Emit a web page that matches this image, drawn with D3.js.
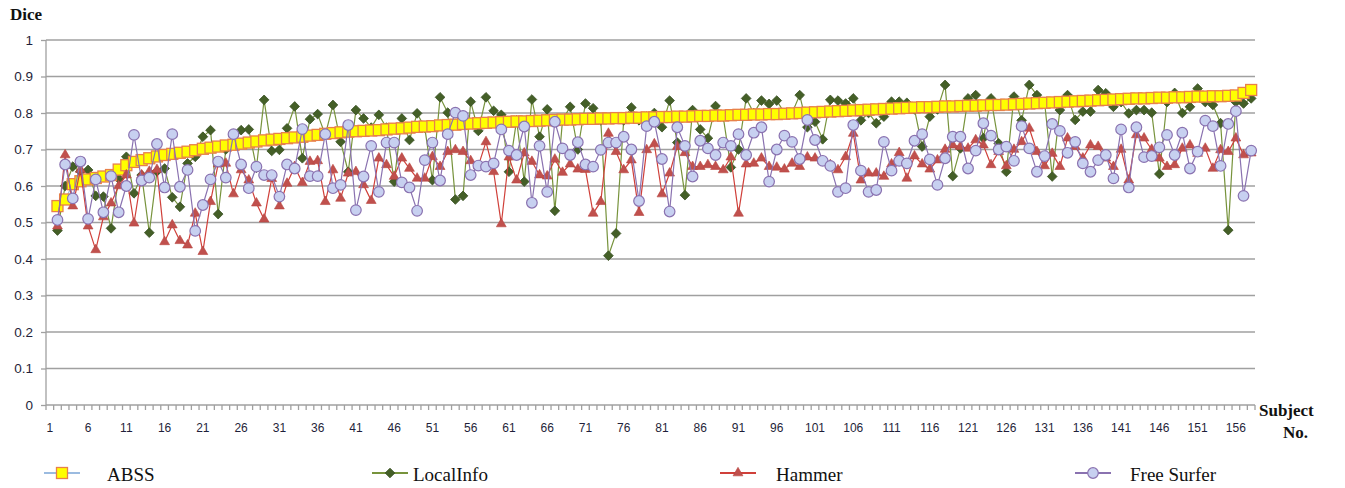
<!DOCTYPE html>
<html>
<head>
<meta charset="utf-8">
<title>Dice per subject</title>
<script src="https://cdn.jsdelivr.net/npm/d3@7"></script>
<style>
  body { margin: 0; background: #fff; }
  svg text { font-family: "Liberation Sans", Arial, sans-serif; }
  .grid line { stroke: #a0a0a0; stroke-width: 1.3; }
  .axis path, .axis line { stroke: #a0a0a0; stroke-width: 1.3; }
  .axis text { fill: #1f1f3a; }
  .serif { font-family: "Liberation Serif", "Times New Roman", serif !important; fill: #111; }
</style>
</head>
<body>
<script>
// categories on the axis: 1..158, data starts at subject 2
var categories = d3.range(1, 159);
var subjects = d3.range(2, 159);
var xLabels = [1, 6, 11, 16, 21, 26, 31, 36, 41, 46, 51, 56, 61, 66, 71, 76, 81, 86, 91, 96,
  101, 106, 111, 116, 121, 126, 131, 136, 141, 146, 151, 156];
var yTicks = [0, 0.1, 0.2, 0.3, 0.4, 0.5, 0.6, 0.7, 0.8, 0.9, 1];

var abss = [0.545, 0.563, 0.605, 0.613, 0.618, 0.622, 0.626, 0.630, 0.645, 0.657,
  0.666, 0.671, 0.676, 0.681, 0.685, 0.688, 0.691, 0.694, 0.698, 0.702,
  0.705, 0.708, 0.711, 0.713, 0.716, 0.719, 0.722, 0.725, 0.727, 0.729,
  0.731, 0.733, 0.735, 0.738, 0.740, 0.743, 0.745, 0.747, 0.749, 0.750,
  0.751, 0.752, 0.753, 0.755, 0.757, 0.758, 0.760, 0.762, 0.763, 0.764,
  0.766, 0.767, 0.768, 0.770, 0.771, 0.772, 0.773, 0.774, 0.775, 0.776,
  0.777, 0.777, 0.778, 0.779, 0.780, 0.781, 0.782, 0.782, 0.783, 0.784,
  0.784, 0.785, 0.785, 0.786, 0.786, 0.787, 0.787, 0.788, 0.788, 0.789,
  0.789, 0.790, 0.790, 0.791, 0.792, 0.792, 0.793, 0.793, 0.794, 0.795,
  0.795, 0.796, 0.796, 0.797, 0.797, 0.798, 0.799, 0.800, 0.801, 0.802,
  0.803, 0.804, 0.805, 0.806, 0.807, 0.808, 0.809, 0.810, 0.811, 0.812,
  0.813, 0.814, 0.815, 0.816, 0.816, 0.817, 0.818, 0.818, 0.819, 0.820,
  0.820, 0.821, 0.822, 0.822, 0.823, 0.824, 0.825, 0.826, 0.827, 0.828,
  0.829, 0.830, 0.831, 0.832, 0.833, 0.834, 0.835, 0.836, 0.837, 0.838,
  0.839, 0.840, 0.840, 0.841, 0.842, 0.842, 0.843, 0.843, 0.844, 0.845,
  0.845, 0.846, 0.846, 0.847, 0.848, 0.855, 0.863];

var localInfo = [0.478, 0.60, 0.653, 0.64, 0.644, 0.573, 0.571, 0.484, 0.62, 0.68,
  0.58, 0.63, 0.472, 0.64, 0.648, 0.569, 0.543, 0.662, 0.68, 0.735,
  0.753, 0.523, 0.70, 0.72, 0.753, 0.755, 0.65, 0.836, 0.696, 0.699,
  0.758, 0.818, 0.676, 0.783, 0.797, 0.74, 0.822, 0.721, 0.639, 0.808,
  0.785, 0.76, 0.795, 0.76, 0.612, 0.785, 0.726, 0.799, 0.76, 0.616,
  0.843, 0.801, 0.563, 0.573, 0.831, 0.751, 0.843, 0.806, 0.795, 0.639,
  0.78, 0.612, 0.837, 0.735, 0.81, 0.532, 0.78, 0.817, 0.70, 0.826,
  0.813, 0.78, 0.409, 0.470, 0.78, 0.815, 0.78, 0.79, 0.80, 0.761,
  0.834, 0.719, 0.575, 0.808, 0.755, 0.731, 0.819, 0.79, 0.651, 0.700,
  0.840, 0.80, 0.834, 0.825, 0.834, 0.80, 0.80, 0.849, 0.761, 0.776,
  0.728, 0.836, 0.834, 0.826, 0.840, 0.78, 0.80, 0.772, 0.79, 0.831,
  0.831, 0.828, 0.81, 0.708, 0.79, 0.81, 0.877, 0.627, 0.703, 0.84,
  0.849, 0.731, 0.84, 0.717, 0.639, 0.845, 0.78, 0.877, 0.849, 0.83,
  0.626, 0.808, 0.849, 0.781, 0.804, 0.804, 0.863, 0.854, 0.817, 0.83,
  0.799, 0.808, 0.808, 0.801, 0.633, 0.83, 0.855, 0.80, 0.817, 0.867,
  0.83, 0.822, 0.772, 0.479, 0.83, 0.826, 0.84];

var hammer = [0.49, 0.685, 0.545, 0.645, 0.49, 0.425, 0.515, 0.553, 0.60, 0.63,
  0.498, 0.63, 0.64, 0.645, 0.447, 0.493, 0.45, 0.438, 0.525, 0.42,
  0.557, 0.66, 0.662, 0.578, 0.644, 0.616, 0.553, 0.509, 0.62, 0.545,
  0.607, 0.653, 0.609, 0.667, 0.669, 0.557, 0.644, 0.566, 0.635, 0.639,
  0.603, 0.560, 0.676, 0.658, 0.626, 0.676, 0.648, 0.621, 0.621, 0.68,
  0.653, 0.694, 0.699, 0.694, 0.669, 0.655, 0.721, 0.639, 0.496, 0.679,
  0.616, 0.69, 0.667, 0.63, 0.627, 0.673, 0.637, 0.66, 0.646, 0.645,
  0.525, 0.557, 0.744, 0.694, 0.644, 0.671, 0.527, 0.699, 0.715, 0.578,
  0.635, 0.708, 0.691, 0.653, 0.653, 0.658, 0.653, 0.644, 0.679, 0.525,
  0.66, 0.662, 0.676, 0.653, 0.651, 0.646, 0.662, 0.653, 0.679, 0.676,
  0.669, 0.658, 0.644, 0.68, 0.744, 0.616, 0.635, 0.635, 0.626, 0.66,
  0.691, 0.621, 0.682, 0.660, 0.646, 0.671, 0.70, 0.712, 0.708, 0.703,
  0.726, 0.712, 0.658, 0.694, 0.655, 0.70, 0.721, 0.758, 0.694, 0.655,
  0.689, 0.653, 0.731, 0.708, 0.676, 0.712, 0.708, 0.676, 0.653, 0.700,
  0.616, 0.74, 0.731, 0.70, 0.676, 0.653, 0.658, 0.703, 0.712, 0.689,
  0.703, 0.648, 0.699, 0.694, 0.731, 0.685, 0.69];

var freeSurfer = [0.507, 0.659, 0.566, 0.667, 0.510, 0.618, 0.528, 0.627, 0.528, 0.600,
  0.740, 0.615, 0.623, 0.715, 0.596, 0.742, 0.598, 0.644, 0.477, 0.548,
  0.618, 0.667, 0.623, 0.742, 0.659, 0.594, 0.653, 0.630, 0.630, 0.571,
  0.659, 0.648, 0.756, 0.627, 0.627, 0.742, 0.594, 0.603, 0.767, 0.534,
  0.626, 0.710, 0.584, 0.719, 0.719, 0.610, 0.596, 0.532, 0.671, 0.719,
  0.615, 0.742, 0.801, 0.792, 0.630, 0.656, 0.653, 0.662, 0.755, 0.697,
  0.685, 0.763, 0.554, 0.710, 0.584, 0.776, 0.703, 0.685, 0.720, 0.659,
  0.653, 0.699, 0.719, 0.719, 0.735, 0.700, 0.559, 0.764, 0.776, 0.674,
  0.530, 0.761, 0.710, 0.626, 0.724, 0.703, 0.685, 0.719, 0.710, 0.742,
  0.685, 0.746, 0.761, 0.612, 0.700, 0.738, 0.721, 0.674, 0.781, 0.726,
  0.669, 0.655, 0.584, 0.594, 0.767, 0.642, 0.584, 0.589, 0.721, 0.642,
  0.669, 0.662, 0.724, 0.742, 0.673, 0.603, 0.676, 0.735, 0.735, 0.648,
  0.697, 0.772, 0.738, 0.700, 0.708, 0.669, 0.764, 0.703, 0.639, 0.682,
  0.770, 0.751, 0.691, 0.721, 0.662, 0.639, 0.671, 0.685, 0.621, 0.755,
  0.596, 0.761, 0.679, 0.682, 0.706, 0.740, 0.685, 0.746, 0.648, 0.694,
  0.779, 0.764, 0.655, 0.770, 0.805, 0.573, 0.697];

var width = 1345, height = 488;
var plotLeft = 46, plotRight = 1255, plotTop = 40, plotBottom = 405;

var svg = d3.select('body').append('svg')
  .attr('width', width)
  .attr('height', height);

var x = d3.scaleBand().domain(categories).range([plotLeft, plotRight]).padding(0);
var y = d3.scaleLinear().domain([0, 1]).range([plotBottom, plotTop]);
var cx = function(s) { return x(s) + x.bandwidth() / 2; };

// gridlines
svg.append('g').attr('class', 'grid')
  .selectAll('line').data(yTicks.slice(1)).enter().append('line')
  .attr('x1', plotLeft).attr('x2', plotRight)
  .attr('y1', function(d) { return y(d); }).attr('y2', function(d) { return y(d); });

// y axis
var yAxis = d3.axisLeft(y).tickValues(yTicks).tickSize(5).tickPadding(8)
  .tickFormat(function(d) { return d3.format('~g')(d); });
var gy = svg.append('g').attr('class', 'axis')
  .attr('transform', 'translate(' + plotLeft + ',0)').call(yAxis);
gy.select('.domain').attr('d', 'M0,' + plotBottom + 'V' + plotTop);
gy.selectAll('text').style('font-size', '13.5px');

// x axis: tick marks at category boundaries, labels every 5th
var gx = svg.append('g').attr('class', 'axis')
  .attr('transform', 'translate(0,' + plotBottom + ')');
gx.append('line').attr('x1', plotLeft).attr('x2', plotRight).attr('y1', 0).attr('y2', 0);
gx.selectAll('line.tk').data(categories.concat([null])).enter().append('line')
  .attr('class', 'tk')
  .attr('x1', function(d) { return d === null ? plotRight : x(d); })
  .attr('x2', function(d) { return d === null ? plotRight : x(d); })
  .attr('y1', 0).attr('y2', 5);
gx.selectAll('text').data(xLabels).enter().append('text')
  .attr('x', function(d) { return cx(d); })
  .attr('y', 27)
  .attr('text-anchor', 'middle')
  .style('font-size', '12px')
  .text(function(d) { return d; });

// titles
svg.append('text').attr('class', 'serif').attr('x', 10).attr('y', 20)
  .style('font-size', '17px').style('font-weight', 'bold').text('Dice');
svg.append('text').attr('class', 'serif').attr('x', 1259).attr('y', 416)
  .style('font-size', '17px').style('font-weight', 'bold').text('Subject');
svg.append('text').attr('class', 'serif').attr('x', 1283).attr('y', 438)
  .style('font-size', '17px').style('font-weight', 'bold').text('No.');

// markers
function marker(g, type, px, py) {
  if (type === 'square') {
    g.append('rect').attr('x', px - 5.5).attr('y', py - 5.5).attr('width', 11).attr('height', 11)
      .attr('fill', '#ffff00').attr('stroke', '#e8804a').attr('stroke-width', 1.3);
  } else if (type === 'diamond') {
    g.append('path').attr('d', d3.symbol(d3.symbolDiamond2, 60)())
      .attr('transform', 'translate(' + px + ',' + py + ')')
      .attr('fill', '#445f27').attr('stroke', '#3a5224').attr('stroke-width', 0.8);
  } else if (type === 'triangle') {
    g.append('path').attr('d', d3.symbol(d3.symbolTriangle, 42)())
      .attr('transform', 'translate(' + px + ',' + py + ')')
      .attr('fill', '#c0504d').attr('stroke', '#b84440').attr('stroke-width', 0.6);
  } else {
    g.append('circle').attr('cx', px).attr('cy', py).attr('r', 5.3)
      .attr('fill', '#c7d0f0').attr('stroke', '#8a72b0').attr('stroke-width', 1.2);
  }
}

var series = [
  { name: 'ABSS', values: abss, line: '#9bbbe0', type: 'square', lx: 62, tx: 107 },
  { name: 'LocalInfo', values: localInfo, line: '#77933c', type: 'diamond', lx: 390, tx: 413 },
  { name: 'Hammer', values: hammer, line: '#d0403a', type: 'triangle', lx: 738, tx: 776 },
  { name: 'Free Surfer', values: freeSurfer, line: '#8a72b0', type: 'circle', lx: 1093, tx: 1130 }
];

var line = d3.line()
  .x(function(d) { return cx(d.s); })
  .y(function(d) { return y(d.v); });

// LocalInfo sits underneath the ABSS squares, the others on top
var drawOrder = [1, 0, 2, 3];
drawOrder.forEach(function(k) {
  var sr = series[k];
  var pts = subjects.map(function(s, i) { return { s: s, v: sr.values[i] }; });
  var g = svg.append('g');
  g.append('path').attr('d', line(pts)).attr('fill', 'none')
    .attr('stroke', sr.line).attr('stroke-width', 1.2);
  pts.forEach(function(p) { marker(g, sr.type, cx(p.s), y(p.v)); });
});

// legend
series.forEach(function(sr) {
  var lg = svg.append('g');
  lg.append('line').attr('x1', sr.lx - 18).attr('x2', sr.lx + 18)
    .attr('y1', 473).attr('y2', 473).attr('stroke', sr.line).attr('stroke-width', 2);
  marker(lg, sr.type, sr.lx, 473);
  lg.append('text').attr('class', 'serif').attr('x', sr.tx).attr('y', 481)
    .style('font-size', '19px').text(sr.name);
});
</script>
</body>
</html>
